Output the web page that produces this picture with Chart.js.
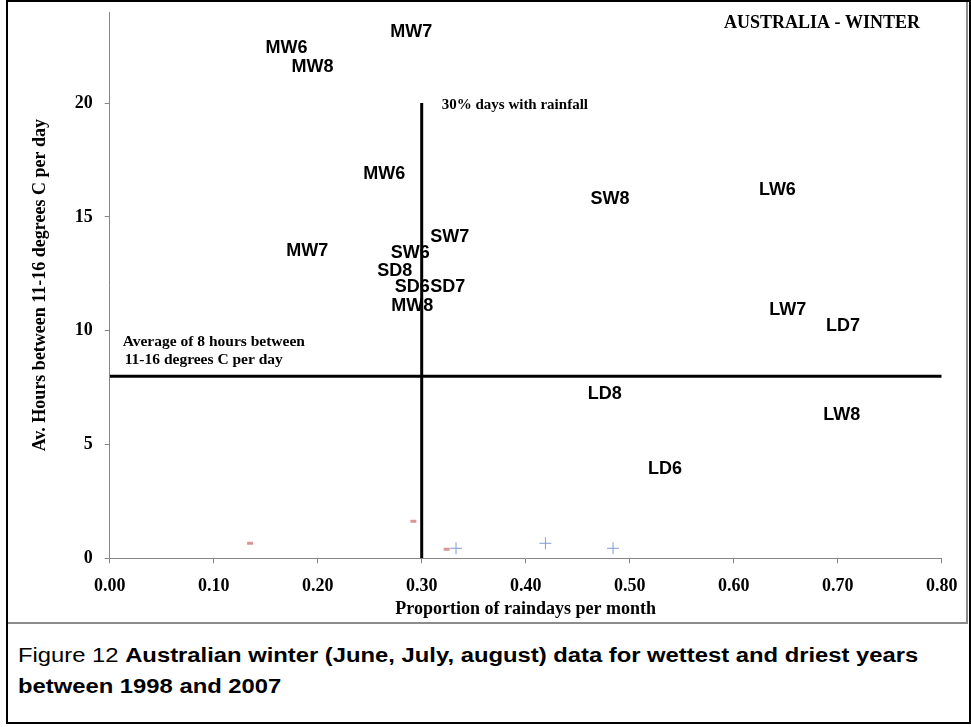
<!DOCTYPE html>
<html>
<head>
<meta charset="utf-8">
<script src="https://cdn.jsdelivr.net/npm/chart.js@4"></script>
<style>
  html, body { margin: 0; padding: 0; background: #fff; }
  #frame {
    position: absolute; left: 6px; top: 0; width: 961px; height: 720px;
    border: 2px solid #000; background: #fff;
  }
  #chartBox {
    position: absolute; left: 0; top: 0; width: 958px; height: 620px;
    border-right: 2px solid #8c8c8c; border-bottom: 2px solid #8c8c8c;
  }
  #caption {
    position: absolute; left: 10px; top: 638px; white-space: nowrap;
    font-family: "Liberation Sans", Arial, sans-serif; font-size: 20px; line-height: 31px; color: #000;
    transform: scaleX(1.19); transform-origin: 0 0;
  }
</style>
</head>
<body>
<div id="frame">
  <div id="chartBox"><canvas id="winterChart" width="958" height="620"></canvas></div>
  <div id="caption">Figure 12 <b>Australian winter (June, July, august) data for wettest and driest years<br>between 1998 and 2007</b></div>
</div>
<script>
// labelled points (marker hidden, only the name is shown)
const siteNames = ['MW7', 'MW6', 'MW8', 'MW6', 'MW7', 'SW7', 'SW6', 'SD8', 'SD6', 'SD7', 'MW8',
                   'SW8', 'LW6', 'LW7', 'LD7', 'LD8', 'LW8', 'LD6'];
const rainProp = [0.290, 0.170, 0.195, 0.264, 0.190, 0.327, 0.289, 0.274, 0.291, 0.325, 0.291,
                  0.481, 0.642, 0.652, 0.705, 0.476, 0.704, 0.534];
const hoursMild = [23.1, 22.4, 21.6, 16.9, 13.5, 14.1, 13.4, 12.6, 11.9, 11.9, 11.1,
                   15.8, 16.2, 10.9, 10.2, 7.2, 6.3, 3.9];

// small markers near the x axis
const dashX = [0.135, 0.292, 0.324];
const dashY = [0.66, 1.63, 0.40];
const plusX = [0.333, 0.419, 0.484];
const plusY = [0.44, 0.66, 0.44];

// reference lines
const rainThreshold = 0.30;
const thresholdTop = 20;
const avgHours = 8;
const xMin = 0, xMax = 0.80, yMin = 0, yMax = 24;

const serif = '"Liberation Serif", "Times New Roman", serif';
const sans = '"Liberation Sans", Arial, sans-serif';

const toPoints = (xs, ys) => xs.map((x, i) => ({ x: x, y: ys[i] }));

const pointLabels = {
    id: 'pointLabels',
    afterDatasetsDraw(chart) {
        const ctx = chart.ctx;
        const meta = chart.getDatasetMeta(0);
        ctx.save();
        ctx.font = 'bold 18px ' + sans;
        ctx.fillStyle = '#000';
        ctx.textAlign = 'center';
        ctx.textBaseline = 'middle';
        meta.data.forEach((pt, i) => {
            ctx.fillText(siteNames[i], pt.x, pt.y);
        });
        ctx.restore();
    }
};

const notes = {
    id: 'notes',
    afterDraw(chart) {
        const ctx = chart.ctx;
        const xs = chart.scales.x, ys = chart.scales.y;
        ctx.save();
        ctx.fillStyle = '#000';
        ctx.textBaseline = 'middle';
        ctx.textAlign = 'left';
        ctx.font = 'bold 15px ' + serif;
        ctx.fillText('30% days with rainfall', xs.getPixelForValue(rainThreshold) + 20, ys.getPixelForValue(thresholdTop) + 2);
        ctx.font = 'bold 15.5px ' + serif;
        ctx.fillText('Average of 8 hours between', xs.left + 13, ys.getPixelForValue(avgHours) - 34);
        ctx.fillText('11-16 degrees C per day', xs.left + 15, ys.getPixelForValue(avgHours) - 16);
        ctx.font = 'bold 18px ' + serif;
        ctx.fillText('AUSTRALIA - WINTER', 716, 21);
        ctx.restore();
    }
};

const axisGray = '#868686';

new Chart(document.getElementById('winterChart'), {
    type: 'scatter',
    data: {
        datasets: [
            {
                label: 'sites',
                data: toPoints(rainProp, hoursMild),
                pointRadius: 0
            },
            {
                label: 'dash',
                data: toPoints(dashX, dashY),
                pointStyle: 'line',
                pointRadius: 3,
                borderWidth: 3,
                borderColor: '#d99694',
                backgroundColor: '#d99694'
            },
            {
                label: 'plus',
                data: toPoints(plusX, plusY),
                pointStyle: 'cross',
                pointRadius: 6,
                borderWidth: 1,
                borderColor: '#7f9dd1',
                backgroundColor: '#7f9dd1'
            },
            {
                label: 'rain threshold',
                data: [{ x: rainThreshold, y: 0 }, { x: rainThreshold, y: thresholdTop }],
                showLine: true,
                pointRadius: 0,
                borderWidth: 3,
                borderColor: '#000'
            },
            {
                label: 'average hours',
                data: [{ x: xMin, y: avgHours }, { x: xMax, y: avgHours }],
                showLine: true,
                pointRadius: 0,
                borderWidth: 3,
                borderColor: '#000'
            }
        ]
    },
    options: {
        responsive: false,
        animation: false,
        events: [],
        layout: { padding: { left: 0, top: 10, right: 24.3, bottom: 0 } },
        plugins: {
            legend: { display: false },
            tooltip: { enabled: false }
        },
        scales: {
            x: {
                type: 'linear',
                min: xMin,
                max: xMax,
                afterFit: (scale) => {
                    scale.height = 63.7;
                    scale.paddingLeft = 0;
                    scale.paddingRight = 0;
                },
                grid: { drawOnChartArea: false, drawTicks: true, tickLength: 5, color: axisGray },
                border: { color: axisGray, width: 1 },
                ticks: {
                    stepSize: 0.1,
                    padding: 12,
                    color: '#000',
                    font: { family: serif, size: 18, weight: 'bold' },
                    callback: (v) => v.toFixed(2)
                },
                title: {
                    display: true,
                    text: 'Proportion of raindays per month',
                    color: '#000',
                    font: { family: serif, size: 18, weight: 'bold' },
                    padding: { top: 0, bottom: 2 }
                }
            },
            y: {
                type: 'linear',
                min: yMin,
                max: yMax,
                afterFit: (scale) => {
                    scale.width = 101.7;
                    scale.paddingTop = 0;
                    scale.paddingBottom = 0;
                },
                afterBuildTicks: (scale) => { scale.ticks = scale.ticks.filter(t => t.value % 5 === 0); },
                grid: { drawOnChartArea: false, drawTicks: true, tickLength: 5, color: axisGray },
                border: { color: axisGray, width: 1 },
                ticks: {
                    stepSize: 5,
                    padding: 12,
                    color: '#000',
                    font: { family: serif, size: 18, weight: 'bold' }
                },
                title: {
                    display: true,
                    text: 'Av. Hours between 11-16 degrees C per day',
                    color: '#000',
                    font: { family: serif, size: 18, weight: 'bold' },
                    padding: { top: 22, bottom: 0 }
                }
            }
        }
    },
    plugins: [pointLabels, notes]
});
</script>
</body>
</html>
